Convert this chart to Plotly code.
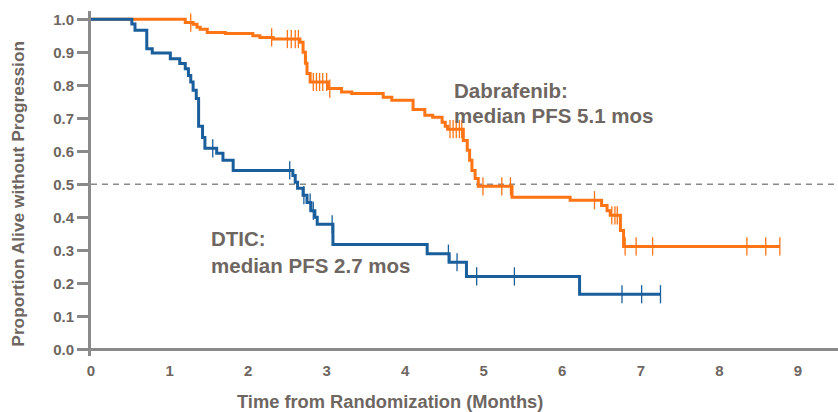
import plotly.graph_objects as go
import bisect

# ---------------- data ----------------
# DTIC arm: event times (months) and survival after each event
dtic_times = [0.52, 0.56, 0.71, 0.78, 1.01, 1.13, 1.20, 1.24, 1.27, 1.30, 1.34, 1.37, 1.42, 1.45,
              1.60, 1.68, 1.81, 2.57, 2.60, 2.63, 2.70, 2.75, 2.80, 2.85, 2.88, 3.08,
              4.28, 4.56, 4.78, 6.22]
dtic_surv = [0.986, 0.967, 0.911, 0.898, 0.880, 0.866, 0.850, 0.830, 0.810, 0.785, 0.760, 0.676,
             0.642, 0.609, 0.594, 0.573, 0.542, 0.527, 0.506, 0.488, 0.467, 0.445, 0.420, 0.400,
             0.379, 0.318, 0.290, 0.264, 0.221, 0.167]
dtic_censor = [1.55, 2.53, 2.71, 2.79, 2.83, 3.07, 4.55, 4.66, 4.91, 5.39, 6.76, 7.01, 7.25]
dtic_end = 7.25

# Dabrafenib arm
dab_times = [1.20, 1.30, 1.35, 1.39, 1.48, 1.71, 2.06, 2.15, 2.32, 2.66, 2.70, 2.73, 2.75, 2.79,
             3.02, 3.19, 3.32, 3.72, 3.83, 4.10, 4.25, 4.35, 4.47, 4.51, 4.54, 4.74, 4.79, 4.82,
             4.85, 4.89, 4.93, 5.36, 6.10, 6.50, 6.57, 6.61, 6.74, 6.78]
dab_surv = [0.990, 0.985, 0.976, 0.970, 0.960, 0.957, 0.950, 0.945, 0.940, 0.930, 0.900, 0.867,
            0.836, 0.810, 0.790, 0.780, 0.775, 0.764, 0.755, 0.727, 0.709, 0.703, 0.688, 0.676,
            0.667, 0.633, 0.603, 0.573, 0.542, 0.518, 0.494, 0.461, 0.452, 0.436, 0.420, 0.406,
            0.360, 0.312]
dab_censor = [1.27, 2.30, 2.50, 2.55, 2.60, 2.64, 2.83, 2.87, 2.91, 2.95, 3.00, 3.04, 4.57, 4.61,
              4.65, 4.69, 4.72, 4.99, 5.23, 5.34, 6.41, 6.63, 6.67, 6.70, 6.80, 6.94, 7.15,
              8.35, 8.59, 8.77]
dab_end = 8.77

x_ticks = [0, 1, 2, 3, 4, 5, 6, 7, 8, 9]
y_ticks = [0.0, 0.1, 0.2, 0.3, 0.4, 0.5, 0.6, 0.7, 0.8, 0.9, 1.0]
y_tick_labels = ["0.0", "0.1", "0.2", "0.3", "0.4", "0.5", "0.6", "0.7", "0.8", "0.9", "1.0"]

median_line = 0.5

# ---------------- helpers ----------------
def step_curve(times, surv, end):
    xs = [0.0] + list(times) + [end]
    ys = [1.0] + list(surv) + [surv[-1]]
    return xs, ys

def value_at(times, surv, t):
    i = bisect.bisect_right(times, t)
    return 1.0 if i == 0 else surv[i - 1]

ORANGE = "#FF7415"
BLUE = "#1B5E9C"
TEXT = "#6E6661"
AXIS = "#8A8A8A"
FONT = "Liberation Sans, Arial, sans-serif"

fig = go.Figure()

for times, surv, cens, end, col in [(dab_times, dab_surv, dab_censor, dab_end, ORANGE),
                                     (dtic_times, dtic_surv, dtic_censor, dtic_end, BLUE)]:
    xs, ys = step_curve(times, surv, end)
    fig.add_trace(go.Scatter(x=xs, y=ys, mode="lines", line=dict(color=col, width=3, shape="hv"),
                             hoverinfo="skip", showlegend=False))
    cy = [value_at(times, surv, t) for t in cens]
    fig.add_trace(go.Scatter(x=cens, y=cy, mode="markers",
                             marker=dict(symbol="line-ns", size=13, line=dict(color=col, width=1.3)),
                             hoverinfo="skip", showlegend=False))

# median dashed line
fig.add_shape(type="line", xref="paper", x0=0, x1=1, yref="y", y0=median_line, y1=median_line,
              line=dict(color=AXIS, width=1.5, dash="6px,5px"), layer="below")
# x axis line at y=0
fig.add_shape(type="line", xref="paper", x0=0, x1=1, yref="y", y0=0, y1=0,
              line=dict(color=AXIS, width=3), layer="above")

annot_font = dict(family=FONT, size=20.5, color=TEXT)
fig.add_annotation(x=4.60, y=0.785, text="<b>Dabrafenib:</b>", showarrow=False, xanchor="left",
                   yanchor="middle", font=annot_font)
fig.add_annotation(x=4.60, y=0.709, text="<b>median PFS 5.1 mos</b>", showarrow=False,
                   xanchor="left", yanchor="middle", font=annot_font)
fig.add_annotation(x=1.50, y=0.336, text="<b>DTIC:</b>", showarrow=False, xanchor="left",
                   yanchor="middle", font=annot_font)
fig.add_annotation(x=1.50, y=0.255, text="<b>median PFS 2.7 mos</b>", showarrow=False,
                   xanchor="left", yanchor="middle", font=annot_font)

# axis titles
fig.add_annotation(xref="paper", yref="paper", x=-0.098, y=0.47, text="<b>Proportion Alive without Progression</b>",
                   textangle=-90, showarrow=False, xanchor="center", yanchor="middle",
                   font=dict(family=FONT, size=17.3, color=TEXT))
fig.add_annotation(xref="x", yref="paper", x=3.81, y=-0.133, text="<b>Time from Randomization (Months)</b>",
                   showarrow=False, xanchor="center", yanchor="middle",
                   font=dict(family=FONT, size=18.3, color=TEXT))

fig.update_layout(
    width=838, height=412,
    margin=dict(l=91, r=0, t=11, b=56),
    plot_bgcolor="white", paper_bgcolor="white",
    font=dict(family=FONT, color=TEXT),
    xaxis=dict(range=[0, 9.51], tickvals=x_ticks, ticktext=[f"<b>{v}</b>" for v in x_ticks],
               showgrid=False, zeroline=False, showline=False, ticks="",
               tickfont=dict(family=FONT, size=15, color=TEXT), ticklabelstandoff=4),
    yaxis=dict(range=[-0.02, 1.025], tickvals=y_ticks, ticktext=[f"<b>{t}</b>" for t in y_tick_labels],
               showgrid=False, zeroline=False, showline=True, linecolor=AXIS, linewidth=3,
               ticks="outside", ticklen=11, tickwidth=3, tickcolor=AXIS,
               tickfont=dict(family=FONT, size=15, color=TEXT)),
)

fig.write_html("out.html", config={"displayModeBar": False},
               post_script="document.body.style.margin='0';document.body.style.padding='0';")
